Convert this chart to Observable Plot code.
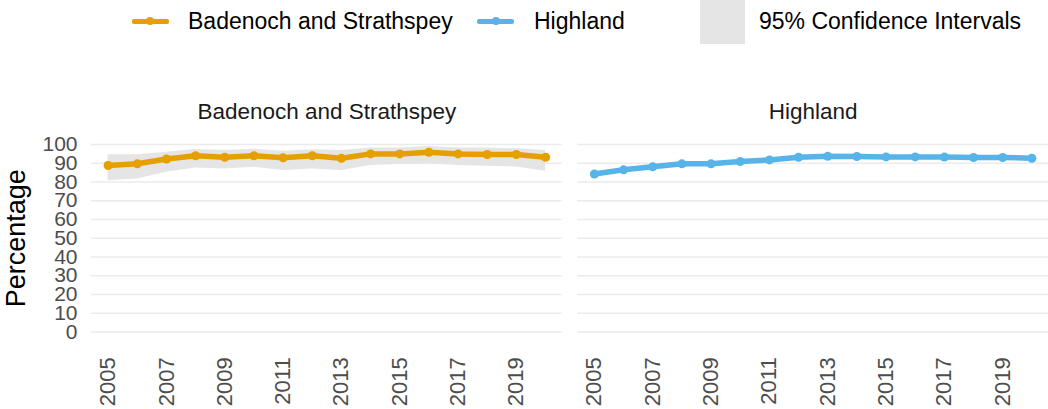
<!DOCTYPE html>
<html><head><meta charset="utf-8">
<script src="https://cdn.jsdelivr.net/npm/d3@7"></script>
<script src="https://cdn.jsdelivr.net/npm/@observablehq/plot@0.6"></script>
<style>
body{margin:0;background:#fff;font-family:"Liberation Sans",Arial,sans-serif;}
#legend{position:relative;width:1048px;height:45px;overflow:hidden;}
.key-line{position:absolute;height:5px;border-radius:2px;}
.key-dot{position:absolute;width:8px;height:8px;border-radius:50%;}
.key-box{position:absolute;background:#e5e5e5;}
.key-text{position:absolute;font-size:23px;color:#000;line-height:1;white-space:nowrap;}
#chart svg{display:block;}
</style></head><body>
<div id="legend"></div>
<div id="chart"></div>
<script>
// ---- data ----
const areas = ["Badenoch and Strathspey", "Highland"];
const colors = ["#E69F00", "#56B4E9"];
const years = [2005, 2006, 2007, 2008, 2009, 2010, 2011, 2012, 2013, 2014, 2015, 2016, 2017, 2018, 2019, 2020];
const badenochValue = [88.8, 89.7, 92.3, 94.0, 93.2, 94.0, 92.9, 94.0, 92.7, 95.0, 95.0, 95.9, 95.0, 94.7, 94.7, 93.2];
const badenochLower = [80.7, 81.6, 85.2, 87.5, 87.0, 87.9, 86.1, 87.0, 86.1, 88.8, 89.3, 89.7, 88.8, 88.4, 88.0, 85.7];
const badenochUpper = [94.5, 94.6, 95.9, 97.3, 96.8, 97.5, 96.4, 97.2, 96.8, 98.2, 98.2, 98.9, 98.2, 98.2, 97.7, 96.8];
const highlandValue = [84.3, 86.5, 88.1, 89.7, 89.7, 90.9, 91.8, 93.2, 93.7, 93.6, 93.4, 93.4, 93.3, 93.1, 93.1, 92.7];
const highlandLower = [83.8, 86.0, 87.6, 89.2, 89.2, 90.4, 91.3, 92.7, 93.2, 93.1, 92.9, 92.9, 92.8, 92.6, 92.6, 92.2];
const highlandUpper = [84.8, 87.0, 88.6, 90.2, 90.2, 91.4, 92.3, 93.7, 94.2, 94.1, 93.9, 93.9, 93.8, 93.6, 93.6, 93.2];
const xTicks = [2005, 2007, 2009, 2011, 2013, 2015, 2017, 2019];
const yTicks = [0, 10, 20, 30, 40, 50, 60, 70, 80, 90, 100];
const legendLabels = ["Badenoch and Strathspey", "Highland", "95% Confidence Intervals"];
const yLabel = "Percentage";

// ---- table ----
const series = [
  {area: areas[0], v: badenochValue, lo: badenochLower, hi: badenochUpper},
  {area: areas[1], v: highlandValue, lo: highlandLower, hi: highlandUpper}
];
const data = series.flatMap(s => years.map((yr, i) => ({area: s.area, year: yr, value: s.v[i], lower: s.lo[i], upper: s.hi[i]})));

// ---- legend (HTML) ----
const legend = document.getElementById("legend");
function addEl(cls, style, text) {
  const d = document.createElement("div");
  d.className = cls;
  Object.assign(d.style, style);
  if (text) d.textContent = text;
  legend.appendChild(d);
}
addEl("key-line", {left: "132px", top: "18.5px", width: "37px", background: colors[0]});
addEl("key-dot", {left: "146px", top: "17px", background: colors[0]});
addEl("key-text", {left: "188px", top: "10px"}, legendLabels[0]);
addEl("key-line", {left: "477px", top: "18.5px", width: "37px", background: colors[1]});
addEl("key-dot", {left: "491.5px", top: "17px", background: colors[1]});
addEl("key-text", {left: "534px", top: "10px"}, legendLabels[1]);
addEl("key-box", {left: "700px", top: "-1px", width: "45px", height: "45px"});
addEl("key-text", {left: "759px", top: "10px"}, legendLabels[2]);

// ---- chart ----
const font = '"Liberation Sans", Arial, sans-serif';
const chart = Plot.plot({
  width: 1048,
  height: 364,
  marginLeft: 91,
  marginRight: 0,
  marginTop: 89.65,
  marginBottom: 68.15,
  style: {fontFamily: font, fontSize: "21px", background: "#fff"},
  fx: {domain: areas, paddingInner: 0.032, paddingOuter: 0, round: false, axis: null, label: null},
  x: {domain: [2004.43, 2020.57], label: null},
  y: {domain: [-5, 105], label: null},
  color: {domain: areas, range: colors},
  marks: [
    Plot.gridY(yTicks, {stroke: "#ebebeb", strokeOpacity: 1, strokeWidth: 1.7}),
    Plot.areaY(data, {fx: "area", x: "year", y1: "lower", y2: "upper", fill: "#e5e5e5", fillOpacity: 1}),
    Plot.line(data, {fx: "area", x: "year", y: "value", stroke: "area", strokeWidth: 5.5, strokeLinejoin: "round", strokeLinecap: "round"}),
    Plot.dot(data, {fx: "area", x: "year", y: "value", fill: "area", r: 4.5, stroke: "none"}),
    Plot.axisX({ticks: xTicks, tickFormat: d => String(d), tickRotate: -90, tickSize: 0, tickPadding: 16, fontSize: 22, color: "#4d4d4d", label: null}),
    Plot.axisY({ticks: yTicks, tickSize: 0, tickPadding: 14, fontSize: 21, color: "#4d4d4d", label: null}),
    Plot.text(areas, {fx: d => d, text: d => d, frameAnchor: "top", lineAnchor: "middle", dy: -23.6, fontSize: 22.5, fill: "#1a1a1a"}),
    Plot.text([yLabel], {fx: () => areas[0], text: d => d, frameAnchor: "left", textAnchor: "middle", lineAnchor: "middle", rotate: -90, dx: -75, fontSize: 27, fill: "#000"})
  ]
});
document.getElementById("chart").appendChild(chart);
</script>
</body></html>
